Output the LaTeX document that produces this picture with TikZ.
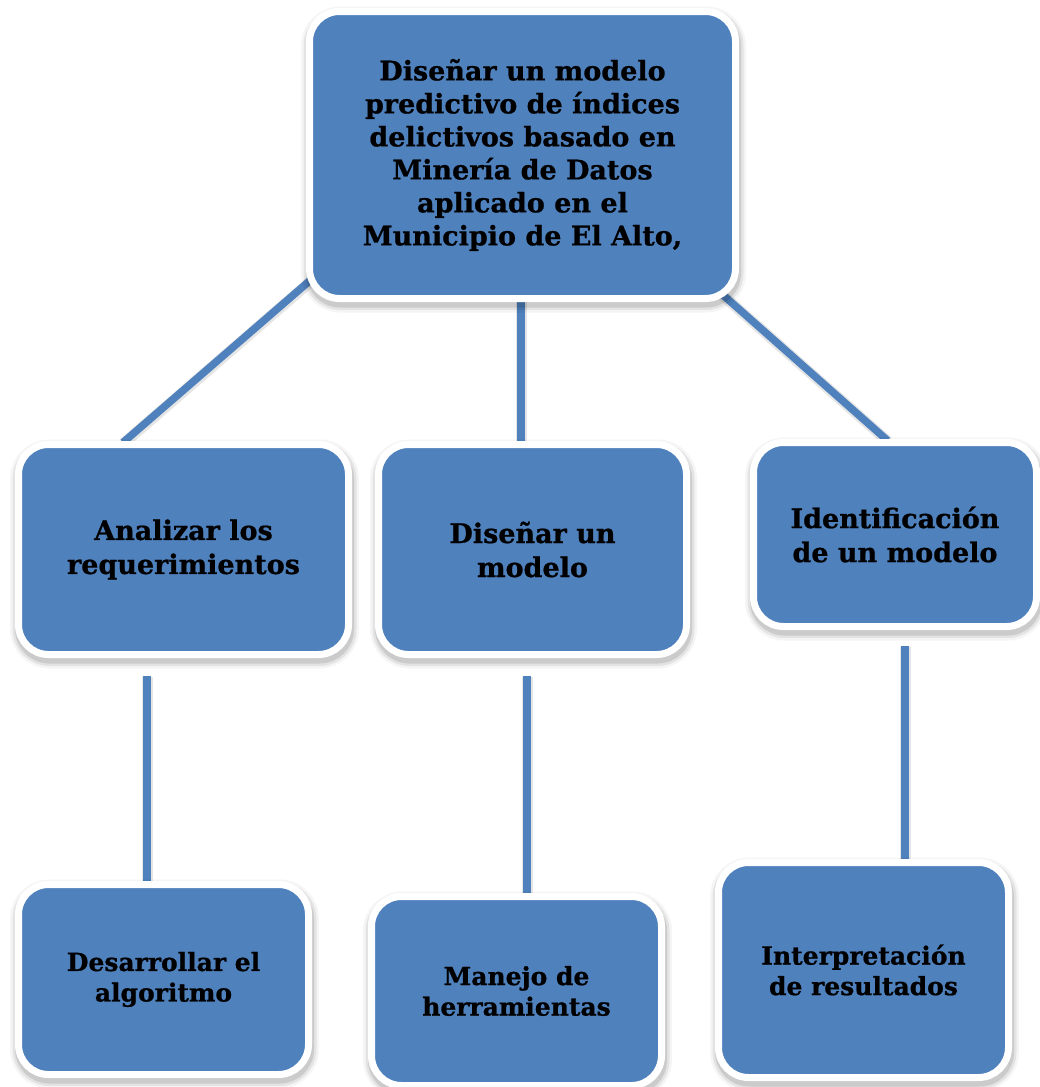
\documentclass[tikz,border=0pt]{standalone}
\usepackage{fontspec}
\setmainfont{DejaVu Serif}[BoldFeatures={FakeBold=0.8}]
\definecolor{boxblue}{HTML}{4F81BD}
\pgfdeclarelayer{back}
\pgfsetlayers{back,main}
\begin{document}
\begin{tikzpicture}[x=1pt,y=-1pt,
  box/.style={rectangle, rounded corners=30pt, fill=boxblue, draw=white,
    line width=7pt, align=center, inner sep=0pt, text=black,
    preaction={draw=black, draw opacity=0.04, line width=19pt,
      transform canvas={shift={(1pt,-4.5pt)}}},
    preaction={draw=black, draw opacity=0.07, line width=14pt,
      transform canvas={shift={(1pt,-4.5pt)}}},
    preaction={draw=black, draw opacity=0.10, line width=9pt,
      transform canvas={shift={(1pt,-4.5pt)}}}},
  bigtxt/.style={font=\fontsize{27}{33}\selectfont\bfseries},
  midtxt/.style={font=\fontsize{27}{34}\selectfont\bfseries},
  smalltxt/.style={font=\fontsize{25}{30.5}\selectfont\bfseries},
  conn/.style={draw=boxblue, line width=7.5pt,
    preaction={draw=black, draw opacity=0.10, line width=11pt,
      transform canvas={shift={(0.5pt,-1pt)}}}}
]
\useasboundingbox (0,0) rectangle (1040,1087);
\begin{pgfonlayer}{back}
\fill[white] (0,0) rectangle (1040,1087);
\end{pgfonlayer}

% main box
\node[box, bigtxt, minimum width=426pt, minimum height=287pt] (top) at (522.5,155)
  {Diseñar un modelo\\predictivo de índices\\delictivos basado en\\Minería de Datos\\aplicado en el\\Municipio de El Alto,};

% second level
\node[box, midtxt, minimum width=330pt, minimum height=210pt] (req) at (183.5,549.5)
  {Analizar los\\requerimientos};
\node[box, midtxt, minimum width=308pt, minimum height=210pt] (dis) at (532.5,549.5)
  {Diseñar un\\modelo};
\node[box, midtxt, minimum width=283pt, minimum height=184pt] (ide) at (895,534.5)
  {Identificación\\de un modelo};

% third level
\node[box, smalltxt, minimum width=290pt, minimum height=190pt] (alg) at (163.5,979.5)
  {Desarrollar el\\algoritmo};
\node[box, smalltxt, minimum width=290pt, minimum height=189pt] (her) at (516.5,991)
  {Manejo de\\herramientas};
\node[box, smalltxt, minimum width=290pt, minimum height=215pt] (res) at (863.5,970)
  {Interpretación\\de resultados};

% connectors, kept behind the boxes
\begin{pgfonlayer}{back}
\draw[conn] ([shift={(26,-40.5)}]top.south west) -- ([shift={(108,1.5)}]req.north west);
\draw[conn] ([shift={(-1.5,-10)}]top.south) -- ([shift={(-11.5,3)}]dis.north);
\draw[conn] ([shift={(-29,-18.5)}]top.south east) -- ([shift={(137.5,1.5)}]ide.north west);
\draw[conn] ([shift={(-36.5,17.5)}]req.south) -- ([shift={(-16.5,3)}]alg.north);
\draw[conn] ([shift={(-5.5,17.5)}]dis.south) -- ([shift={(10.5,3)}]her.north);
\draw[conn] ([shift={(10,15.5)}]ide.south) -- ([shift={(41.5,3)}]res.north);
\end{pgfonlayer}
\end{tikzpicture}
\end{document}
